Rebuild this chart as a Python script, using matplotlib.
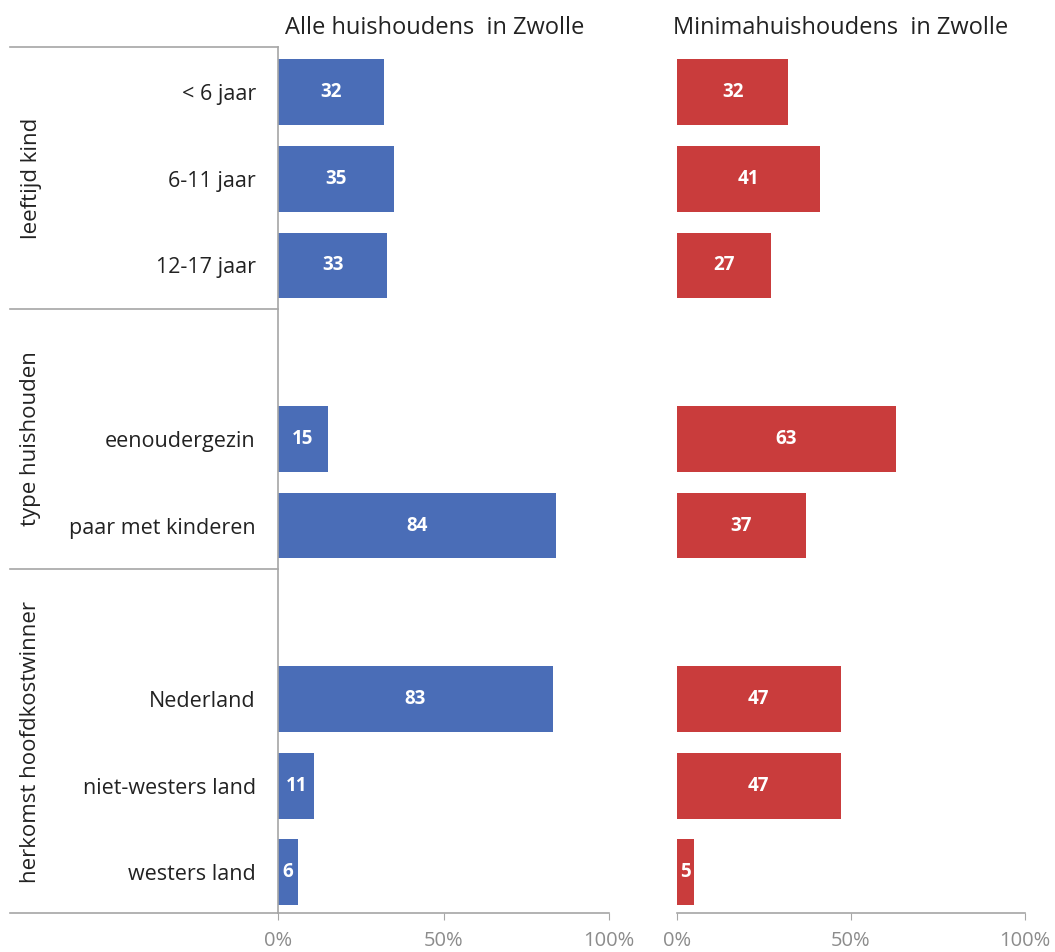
import numpy as np
import matplotlib.pyplot as plt
import matplotlib.transforms as mtrans

# categories ("" = empty spacer row)
categories = ["< 6 jaar", "6-11 jaar", "12-17 jaar", "",
              "eenoudergezin", "paar met kinderen", "",
              "Nederland", "niet-westers land", "westers land"]
alle = [32, 35, 33, None, 15, 84, None, 83, 11, 6]
minima = [32, 41, 27, None, 63, 37, None, 47, 47, 5]
groups = ["leeftijd kind", "type huishouden", "herkomst hoofdkostwinner"]
group_centers = [1, 4, 7.5]
separators = [2.5, 5.5]
titles = ["Alle huishoudens  in Zwolle", "Minimahuishoudens  in Zwolle"]

blue = "#4a6db7"
red = "#c93c3c"
grey = "#a6a6a6"

plt.rcParams["font.family"] = ["Open Sans", "DejaVu Sans"]

fig = plt.figure(figsize=(10.55, 9.52), dpi=100)
ax1 = fig.add_axes([278/1055, 1-913/952, 331/1055, 866/952])
ax2 = fig.add_axes([677/1055, 1-913/952, 348/1055, 866/952])

ypos = np.arange(len(categories))
ylim = (9.47, -0.52)

for ax, vals, col, title, tx in [(ax1, alle, blue, titles[0], 0.474),
                                 (ax2, minima, red, titles[1], 0.471)]:
    for y, v in zip(ypos, vals):
        if v is None:
            continue
        ax.barh(y, v / 100, height=0.76, color=col)
        ax.text(v / 200, y, str(v), ha="center", va="center",
                color="white", fontweight="bold", fontsize=13.5)
    ax.set_xlim(0, 1)
    ax.set_ylim(*ylim)
    ax.set_xticks([0, 0.5, 1])
    ax.set_xticklabels(["0%", "50%", "100%"], color="#8c8c8c", fontsize=14.5)
    ax.tick_params(axis="x", direction="out", length=5, color=grey, pad=8)
    for s in ["top", "right"]:
        ax.spines[s].set_visible(False)
    ax.spines["bottom"].set_color(grey)
    ax.spines["bottom"].set_linewidth(1.2)
    ax.set_title(title, fontsize=17, color="#222222", pad=9, x=tx)

ax1.set_yticks(ypos)
ax1.set_yticklabels(categories, fontsize=15.5, color="#222222")
ax1.tick_params(axis="y", length=0, pad=16)
ax1.spines["left"].set_color(grey)
ax1.spines["left"].set_linewidth(1.2)

ax2.set_yticks([])
ax2.spines["left"].set_visible(False)

# group separator lines extending to the left
trans = mtrans.blended_transform_factory(ax1.transAxes, ax1.transData)
x_left = (10 - 278) / 331
for yy in separators + list(ylim):
    ax1.plot([x_left, 0], [yy, yy], color=grey, lw=1.2, transform=trans, clip_on=False)

gtrans = mtrans.blended_transform_factory(fig.transFigure, ax1.transData)
for g, c in zip(groups, group_centers):
    ax1.text(31/1055, c, g, rotation=90, ha="center", va="center",
             fontsize=16, color="#222222", transform=gtrans)

fig.savefig("out.png", dpi=100)
